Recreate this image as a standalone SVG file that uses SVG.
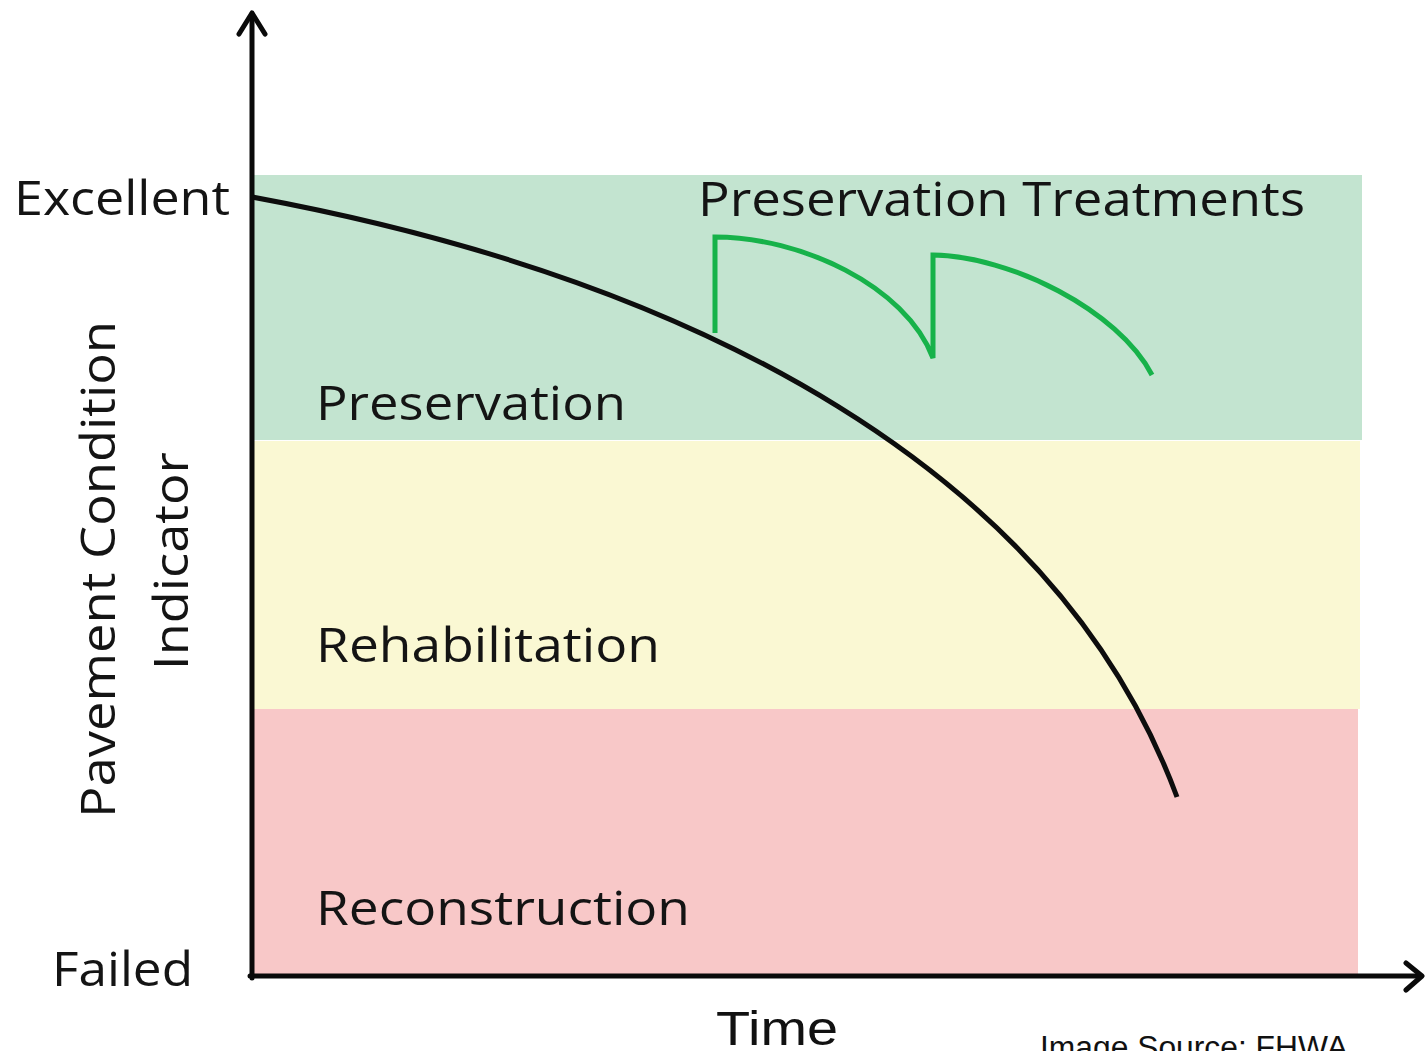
<svg xmlns="http://www.w3.org/2000/svg" width="1425" height="1051" viewBox="0 0 1425 1051">
<style>
.lbl{font-family:"Open Sans","Noto Sans",sans-serif;fill:#141414;font-size:48px}
.ax{fill:none;stroke:#0a0a0a;stroke-width:5;stroke-linecap:round;stroke-linejoin:round}
.green{fill:none;stroke:#17b24a;stroke-width:5;stroke-linejoin:miter}
.src{font-family:"Liberation Sans",Arial,sans-serif;fill:#111}
</style>
<rect width="1425" height="1051" fill="#ffffff"/>
<g id="bands">
<rect id="band-preservation" x="253" y="175" width="1109" height="265" fill="#c3e4d0"/>
<rect id="band-rehabilitation" x="253" y="441" width="1107" height="268" fill="#faf8d3"/>
<rect id="band-reconstruction" x="253" y="709" width="1105" height="267" fill="#f8c8c8"/>
</g>
<g id="zone-labels">
<text class="lbl" x="316" y="420" textLength="310" lengthAdjust="spacingAndGlyphs">Preservation</text>
<text class="lbl" x="316" y="662" textLength="344" lengthAdjust="spacingAndGlyphs">Rehabilitation</text>
<text class="lbl" x="316" y="925" textLength="374" lengthAdjust="spacingAndGlyphs">Reconstruction</text>
</g>
<g id="connectors">
<path id="condition-curve" d="M252,197 C702,280 1057,473 1177,797" fill="none" stroke="#0d0d0d" stroke-width="5"/>
<path id="treatment-curve" class="green" d="M715,333 V237 C800,237 905,285 933,358 V255 C1010,256 1118,310 1152,375"/>
<g id="y-axis">
<line class="ax" x1="252" y1="14" x2="252" y2="978"/>
<polyline class="ax" points="239,34 252,13 265,34"/>
</g>
<g id="x-axis">
<line class="ax" x1="250" y1="976" x2="1421" y2="976"/>
<polyline class="ax" points="1406,963 1422,976 1406,990"/>
</g>
</g>
<g id="axis-labels">
<text class="lbl" x="14" y="215" textLength="216" lengthAdjust="spacingAndGlyphs">Excellent</text>
<text class="lbl" x="52" y="986" textLength="141" lengthAdjust="spacingAndGlyphs">Failed</text>
<text class="lbl" x="698" y="216" textLength="607" lengthAdjust="spacingAndGlyphs">Preservation Treatments</text>
<text class="lbl" transform="translate(115,818) rotate(-90)" x="0" y="0" font-size="55" textLength="497" lengthAdjust="spacingAndGlyphs">Pavement Condition</text>
<text class="lbl" transform="translate(188,670) rotate(-90)" x="0" y="0" font-size="55" textLength="218" lengthAdjust="spacingAndGlyphs">Indicator</text>
<text class="src" x="716" y="1045" font-size="49" textLength="122" lengthAdjust="spacingAndGlyphs">Time</text>
<text class="src" x="1040" y="1058" font-size="31" textLength="308" lengthAdjust="spacingAndGlyphs">Image Source: FHWA</text>
</g>
</svg>
